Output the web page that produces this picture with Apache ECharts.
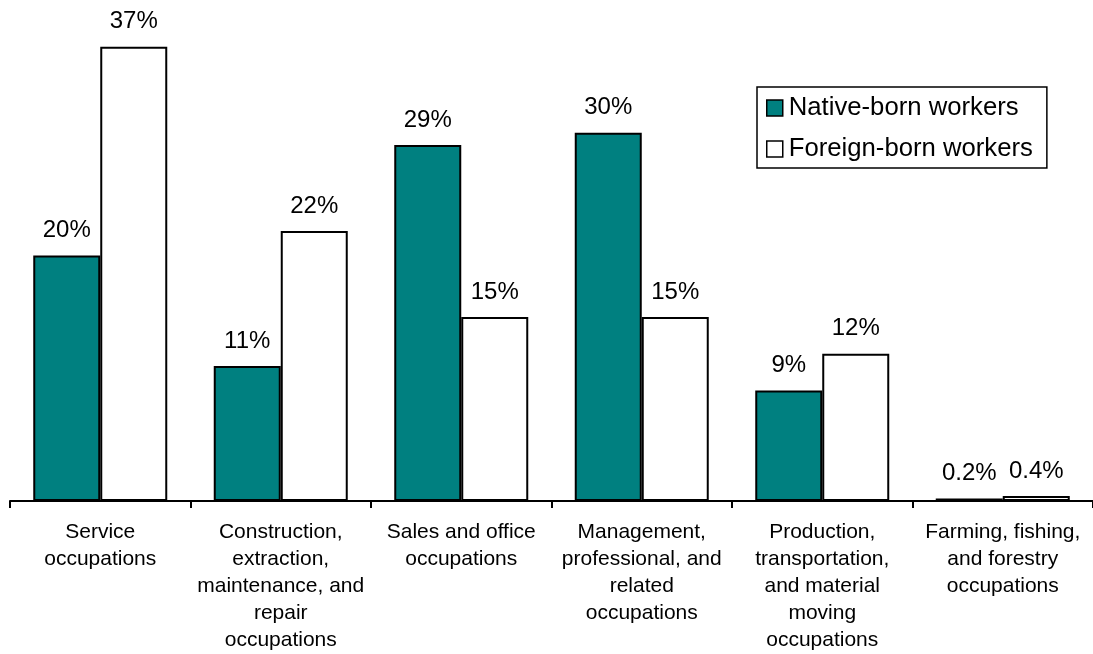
<!DOCTYPE html>
<html>
<head>
<meta charset="utf-8">
<style>
  html, body { margin: 0; padding: 0; background: #fff; }
  #chart { width: 1093px; height: 654px; }
</style>
<script src="https://cdn.jsdelivr.net/npm/echarts@6/dist/echarts.min.js"></script>
</head>
<body>
<div id="chart"></div>
<script>
// Occupation groups along the category axis
const categories = [
  'Service\noccupations',
  'Construction,\nextraction,\nmaintenance, and\nrepair\noccupations',
  'Sales and office\noccupations',
  'Management,\nprofessional, and\nrelated\noccupations',
  'Production,\ntransportation,\nand material\nmoving\noccupations',
  'Farming, fishing,\nand forestry\noccupations'
];

// Share of employed workers in each group, percent
const nativeBorn = [20, 11, 29, 30, 9, 0.2];
const foreignBorn = [37, 22, 15, 15, 12, 0.4];

const seriesNames = ['Native-born workers', 'Foreign-born workers'];

const FONT = '"Liberation Sans", Arial, sans-serif';

function pctLabel(p) {
  return p.value + '%';
}

const valueLabel = {
  show: true,
  position: 'top',
  distance: 13,
  formatter: pctLabel,
  fontFamily: FONT,
  fontSize: 24,
  color: '#000'
};

const chart = echarts.init(document.getElementById('chart'), null, { renderer: 'canvas' });

chart.setOption({
  animation: false,
  backgroundColor: '#ffffff',
  textStyle: { fontFamily: FONT, color: '#000' },
  grid: { left: 10, width: 1087, top: 10, bottom: 151, containLabel: false },
  legend: {
    orient: 'vertical',
    left: 757,
    top: 87,
    padding: [8, 14, 6, 9],
    itemGap: 15,
    itemWidth: 16,
    itemHeight: 16,
    borderColor: '#000',
    borderWidth: 1.5,
    backgroundColor: '#fff',
    icon: 'rect',
    itemStyle: { borderColor: '#000', borderWidth: 1.5 },
    textStyle: { fontFamily: FONT, fontSize: 25.7, color: '#000', padding: [0, 0, 0, 1] },
    data: seriesNames
  },
  xAxis: {
    type: 'category',
    data: categories,
    boundaryGap: true,
    axisLine: { show: true, lineStyle: { color: '#000', width: 2 } },
    axisTick: { show: true, length: 7, lineStyle: { color: '#000', width: 2 } },
    axisLabel: {
      interval: 0,
      margin: 18,
      fontFamily: FONT,
      fontSize: 21,
      lineHeight: 27,
      color: '#000',
      align: 'center'
    }
  },
  yAxis: {
    type: 'value',
    min: 0,
    max: 40,
    show: false,
    splitLine: { show: false }
  },
  series: [
    {
      name: seriesNames[0],
      type: 'bar',
      data: nativeBorn,
      barWidth: 67,
      barGap: '0%',
      itemStyle: { color: '#008080', borderColor: '#000', borderWidth: 2 },
      label: valueLabel
    },
    {
      name: seriesNames[1],
      type: 'bar',
      data: foreignBorn,
      barWidth: 67,
      barGap: '0%',
      itemStyle: { color: '#ffffff', borderColor: '#000', borderWidth: 2 },
      label: valueLabel
    }
  ]
});
</script>
</body>
</html>
